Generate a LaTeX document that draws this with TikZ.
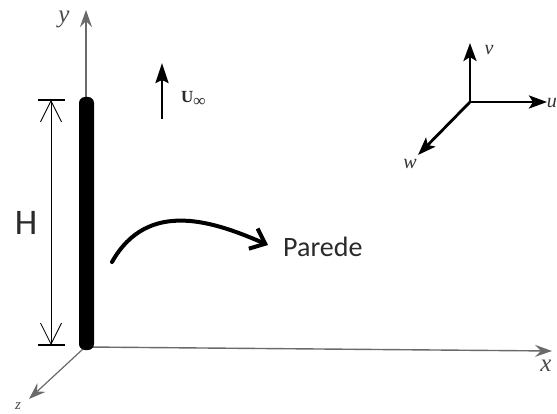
\documentclass[tikz,border=0pt]{standalone}
\usepackage{fontspec}
\newfontfamily\calib{Carlito}
\newfontfamily\tms{Liberation Serif}
\usetikzlibrary{arrows.meta}
\definecolor{axgray}{HTML}{6A6A6A}
\definecolor{txt}{HTML}{2A2A2A}
\begin{document}
\begin{tikzpicture}[x=1pt,y=-1pt,
  axis/.style={draw=axgray, line width=1.4pt, -{Stealth[length=17pt,width=12pt,inset=6pt]}},
  tri/.style={draw=black, line width=2.8pt, -{Stealth[length=18pt,width=13pt,inset=4pt]}},
  axlbl/.style={inner sep=0pt, text=axgray!70!black, font=\tms\itshape\fontsize{#1}{#1}\selectfont},
  trilbl/.style={inner sep=0pt, text=black!80, font=\tms\itshape\fontsize{20}{20}\selectfont},
  wallbox/.style={fill=black, draw=none, minimum width=15pt, minimum height=253pt, rounded corners=6pt, inner sep=0pt},
  calibtxt/.style={inner sep=0pt, text=txt, font=\calib\fontsize{#1}{#1}\selectfont},
  ]
\useasboundingbox (0,0) rectangle (557,414);
% main axes
\coordinate (O) at (86,347);
\coordinate (ytip) at (86,10);
\coordinate (xtip) at (552,351);
\coordinate (Oz) at (83,349);
\coordinate (ztip) at (29,399);
\draw[axis] (O) -- (ytip);
\draw[axis] (O) -- (xtip);
\draw[axis, line width=1.2pt] (Oz) -- (ztip);
\node[axlbl=25] (ylbl) at (64,19) {y};
\node[axlbl=25] (xlbl) at (546,366) {x};
\node[axlbl=15] (zlbl) at (18,406) {z};
% wall
\node[wallbox] (wall) at (86.5,223.5) {};
% H dimension
\coordinate (Htop) at (51,100);
\coordinate (Hbot) at (51,345);
\coordinate (tl1) at (38,100); \coordinate (tr1) at (65,100);
\coordinate (tl2) at (38,345); \coordinate (tr2) at (65,345);
\draw[line width=0.9pt, {Straight Barb[length=21pt,width=21pt,line width=0.8pt]}-{Straight Barb[length=21pt,width=21pt,line width=0.8pt]}] (Htop) -- (Hbot);
\draw[line width=1.3pt] (tl1) -- (tr1);
\draw[line width=1.3pt] (tl2) -- (tr2);
\node[calibtxt=36, anchor=base] (H) at (26,235) {H};
% free-stream arrow
\coordinate (Ubot) at (162,119);
\coordinate (Utop) at (162,63);
\draw[line width=2.8pt, -{Stealth[length=20pt,width=13pt,inset=3pt]}] (Ubot) -- (Utop);
\node[inner sep=0pt, anchor=base west, text=txt, font=\tms\bfseries\fontsize{17}{17}\selectfont] (Ulbl) at (181,103) {U\raisebox{-3.5pt}{\fontsize{17}{17}\selectfont ∞}};
% curved arrow to label
\coordinate (cs) at (112,262);
\coordinate (ce) at (268,245);
\draw[line width=4pt, line cap=round, -{Straight Barb[length=13pt,width=22pt,line width=4pt]}] (cs) .. controls (148,198) and (215,222) .. (ce);
\node[calibtxt=28, anchor=base west] (parede) at (283,257) {Parede};
% velocity triad
\coordinate (T) at (470,102);
\coordinate (vt) at (470,43);
\coordinate (ut) at (547,102);
\coordinate (wt) at (418,155);
\draw[tri] (T) -- (vt);
\draw[tri] (T) -- (ut);
\draw[tri] (T) -- (wt);
\node[trilbl] (vlbl) at (489,50) {v};
\node[trilbl, anchor=east] (ulbl) at (557,103) {u};
\node[trilbl] (wlbl) at (410,164) {w};
\end{tikzpicture}
\end{document}
